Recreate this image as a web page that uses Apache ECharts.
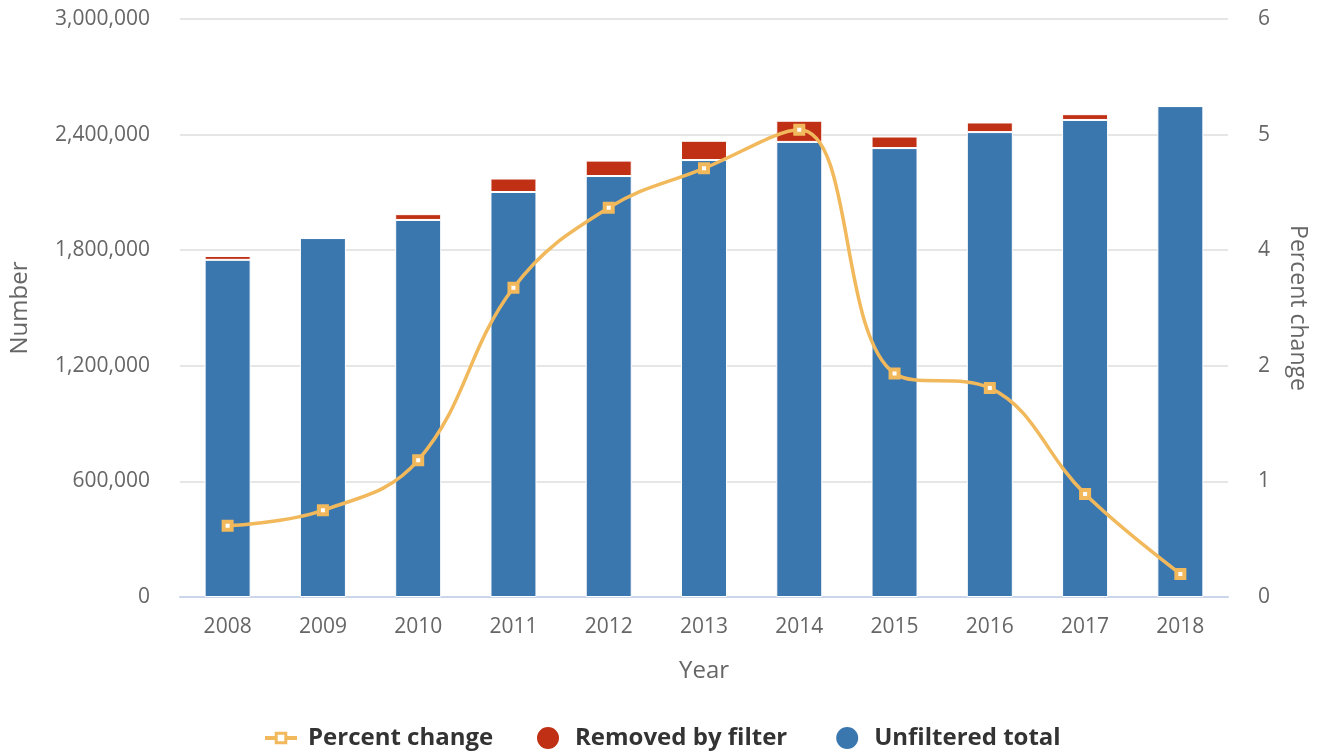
<!DOCTYPE html>
<html>
<head>
<meta charset="utf-8">
<script src="https://cdn.jsdelivr.net/npm/echarts@6/dist/echarts.min.js"></script>
<style>
  html, body { margin: 0; padding: 0; background: #fff; }
  #chart { width: 1319px; height: 753px; }
</style>
</head>
<body>
<div id="chart"></div>
<script>
// data
var years = ['2008', '2009', '2010', '2011', '2012', '2013', '2014', '2015', '2016', '2017', '2018'];
var unfilteredTotal = [1750000, 1863000, 1957000, 2102000, 2185000, 2268000, 2362000, 2330000, 2413000, 2476000, 2548000];
var removedByFilter = [20000, 0, 30000, 70000, 80000, 100000, 110000, 60000, 50000, 30000, 0];
var percentChange = [0.74, 0.90, 1.42, 3.21, 4.04, 4.45, 4.85, 2.32, 2.17, 1.07, 0.24];

var blue = '#3b77af';
var red = '#bf3015';
var orange = '#f1b95c';
var font = '"Open Sans", sans-serif';
var legendText = { fontSize: 24, fontWeight: 'bold', color: '#333', fontFamily: font };

var chart = echarts.init(document.getElementById('chart'));
chart.setOption({
  animation: false,
  textStyle: { fontFamily: font },
  grid: { left: 175.5, right: 91, top: 19, bottom: 156 },
  legend: [
    {
      // line item gets its own legend so its marker stays small
      top: 726,
      left: 263,
      padding: 0,
      itemWidth: 32,
      itemHeight: 12,
      textStyle: Object.assign({ padding: [0, 0, 0, 6] }, legendText),
      data: [{
        name: 'Percent change',
        itemStyle: { color: '#fff', borderColor: orange, borderWidth: 3 },
        lineStyle: { color: orange, width: 4 }
      }]
    },
    {
      top: 725,
      left: 535,
      padding: 0,
      itemGap: 47,
      itemWidth: 24,
      itemHeight: 24,
      icon: 'circle',
      textStyle: Object.assign({ padding: [0, 0, 0, 10] }, legendText),
      data: ['Removed by filter', 'Unfiltered total']
    }
  ],
  xAxis: {
    type: 'category',
    data: years,
    name: 'Year',
    nameLocation: 'middle',
    nameGap: 62,
    nameTextStyle: { fontSize: 24, color: '#666' },
    axisLine: { lineStyle: { color: '#ccd6eb', width: 2 } },
    axisTick: { alignWithLabel: true, length: 12, lineStyle: { color: '#ccd6eb', width: 2 } },
    axisLabel: { fontSize: 21, color: '#666', margin: 20 }
  },
  yAxis: [
    {
      type: 'value',
      min: 0,
      max: 3000000,
      interval: 600000,
      name: 'Number',
      nameLocation: 'middle',
      nameGap: 148,
      nameTextStyle: { fontSize: 24, color: '#666' },
      axisLabel: {
        fontSize: 21, color: '#666', margin: 30,
        formatter: function (v) { return v.toLocaleString('en-US'); }
      },
      splitLine: { lineStyle: { color: '#e6e6e6', width: 2 } }
    },
    {
      type: 'value',
      min: 0,
      max: 6,
      interval: 1.2,
      name: 'Percent change',
      nameLocation: 'middle',
      nameRotate: -90,
      nameGap: 58,
      nameTextStyle: { fontSize: 23, color: '#666' },
      axisLabel: {
        fontSize: 21, color: '#666', margin: 30,
        formatter: function (v) { return String(Math.round(v)); }
      },
      splitLine: { show: false }
    }
  ],
  series: [
    {
      name: 'Unfiltered total',
      type: 'bar',
      stack: 'total',
      barWidth: 46,
      data: unfilteredTotal,
      itemStyle: { color: blue, borderColor: '#fff', borderWidth: 1 }
    },
    {
      name: 'Removed by filter',
      type: 'bar',
      stack: 'total',
      barWidth: 46,
      data: removedByFilter,
      itemStyle: { color: red, borderColor: '#fff', borderWidth: 1 }
    },
    {
      name: 'Percent change',
      type: 'line',
      yAxisIndex: 1,
      smooth: 0.4,
      data: percentChange,
      z: 5,
      symbol: 'rect',
      symbolSize: 8,
      lineStyle: { color: orange, width: 3.5 },
      itemStyle: { color: '#fff', borderColor: orange, borderWidth: 4 }
    }
  ]
});
</script>
</body>
</html>
